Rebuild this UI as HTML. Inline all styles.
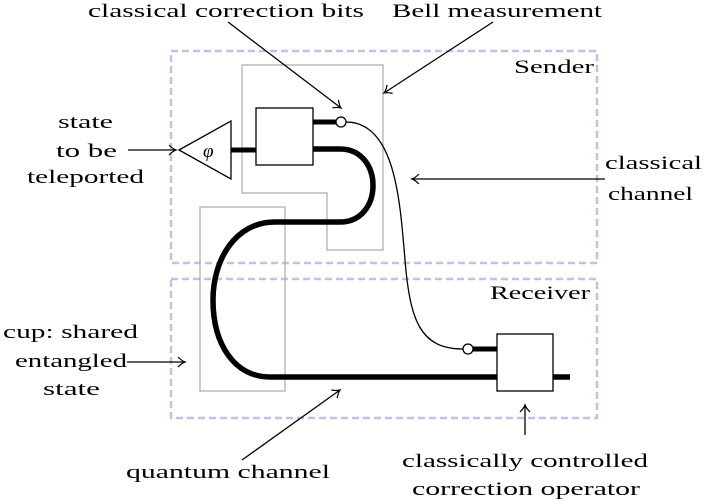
<!DOCTYPE html>
<html><head><meta charset="utf-8"><style>html,body{margin:0;padding:0;background:#fff}svg{display:block}text{font-family:"Liberation Serif",serif;font-size:19px;fill:#000}</style></head>
<body>
<svg width="704" height="500" viewBox="0 0 704 500" xmlns="http://www.w3.org/2000/svg">
<defs><marker id="a" markerWidth="12" markerHeight="12" refX="9" refY="6" orient="auto" markerUnits="userSpaceOnUse"><path d="M2,1 Q6,5 9,6 Q6,7 2,11" fill="none" stroke="#000" stroke-width="1.2"/></marker></defs>
<rect x="171" y="51" width="426" height="212" fill="none" stroke="#c9bde3" stroke-width="2.5" stroke-dasharray="7,4"/>
<rect x="171" y="279" width="426" height="139" fill="none" stroke="#c9bde3" stroke-width="2.5" stroke-dasharray="7,4"/>
<path d="M242,65 H383 V250 H327 V193 H242 Z" fill="none" stroke="#aaa" stroke-width="1.2"/>
<rect x="200" y="207" width="85" height="184" fill="none" stroke="#aaa" stroke-width="1.2"/>
<path d="M230,150 H256" stroke="#000" stroke-width="5"/>
<path d="M313,122 H337" stroke="#000" stroke-width="5"/>
<path d="M313,149 H340 C384,149 384,222 340,222 H275 C235,222 213,260 213,300 C213,345 235,377 270,377 H570" fill="none" stroke="#000" stroke-width="5.5"/>
<path d="M346,122 C395,122 400,200 405,260 C410,320 420,349 463,349" fill="none" stroke="#000" stroke-width="1.3"/>
<path d="M473,349 H498" stroke="#000" stroke-width="5"/>
<circle cx="341" cy="122" r="5" fill="#fff" stroke="#000" stroke-width="1.3"/>
<circle cx="468" cy="349" r="5" fill="#fff" stroke="#000" stroke-width="1.3"/>
<polygon points="179,150 231,121 231,179" fill="#fff" stroke="#000" stroke-width="1.3"/>
<text x="203" y="157" font-style="italic" font-size="22">φ</text>
<rect x="256" y="108" width="57" height="57" fill="#fff" stroke="#000" stroke-width="1.3"/>
<rect x="497" y="334" width="56" height="57" fill="#fff" stroke="#000" stroke-width="1.3"/>
<g stroke="#000" stroke-width="1.3" fill="none" marker-end="url(#a)">
<path d="M228,22 L341,108"/><path d="M493,22 L384,93"/><path d="M128,150 H176"/>
<path d="M605,179 H412"/><path d="M127,362 H185"/><path d="M242,460 L340,390"/><path d="M525,435 V405"/>
</g>
<text x="88" y="17" textLength="276" lengthAdjust="spacingAndGlyphs">classical correction bits</text>
<text x="392" y="17" textLength="210" lengthAdjust="spacingAndGlyphs">Bell measurement</text>
<text x="514" y="73" textLength="80" lengthAdjust="spacingAndGlyphs">Sender</text>
<text x="490" y="299" textLength="100" lengthAdjust="spacingAndGlyphs">Receiver</text>
<text x="58" y="128" textLength="55" lengthAdjust="spacingAndGlyphs">state</text>
<text x="56" y="157" textLength="61" lengthAdjust="spacingAndGlyphs">to be</text>
<text x="27" y="183" textLength="117" lengthAdjust="spacingAndGlyphs">teleported</text>
<text x="605" y="169" textLength="97" lengthAdjust="spacingAndGlyphs">classical</text>
<text x="608" y="200" textLength="85" lengthAdjust="spacingAndGlyphs">channel</text>
<text x="3" y="338" textLength="135" lengthAdjust="spacingAndGlyphs">cup: shared</text>
<text x="15" y="367" textLength="112" lengthAdjust="spacingAndGlyphs">entangled</text>
<text x="43" y="395" textLength="57" lengthAdjust="spacingAndGlyphs">state</text>
<text x="126" y="478" textLength="204" lengthAdjust="spacingAndGlyphs">quantum channel</text>
<text x="402" y="467" textLength="246" lengthAdjust="spacingAndGlyphs">classically controlled</text>
<text x="412" y="495" textLength="228" lengthAdjust="spacingAndGlyphs">correction operator</text>
</svg>
</body></html>
